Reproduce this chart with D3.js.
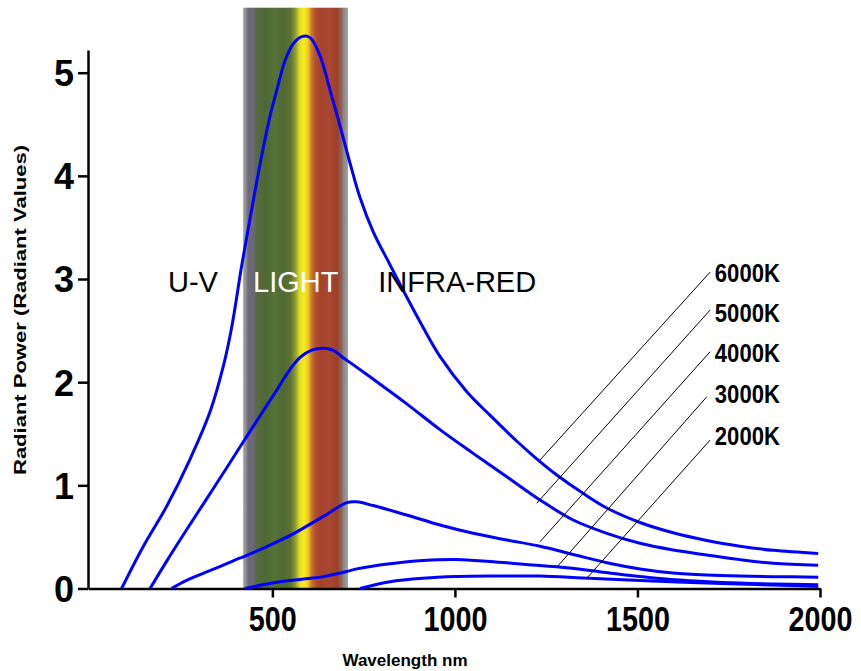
<!DOCTYPE html>
<html>
<head>
<meta charset="utf-8">
<script src="https://cdn.jsdelivr.net/npm/d3@7"></script>
<style>
  html, body { margin: 0; padding: 0; background: #fff; }
  svg { display: block; }
</style>
</head>
<body>
<svg id="chart" width="861" height="671"></svg>
<script>
// ---------- DATA ----------
const xTickValues = [500, 1000, 1500, 2000];
const yTickValues = [0, 1, 2, 3, 4, 5];
const xTitle = "Wavelength nm";
const yTitle = "Radiant Power (Radiant Values)";

const seriesLabels = ["6000K", "5000K", "4000K", "3000K", "2000K"];

// [wavelength nm, radiant value]
const curve6000 = [[87,0],[146,0.405],[211,0.80],[274,1.25],[329,1.71],[366,2.16],[389,2.54],[416,3.13],[434,3.49],[457,3.94],[475,4.27],[493,4.57],[512,4.83],[535,5.12],[557,5.28],[581,5.35],[603,5.34],[630,5.17],[658,4.83],[685,4.49],[713,4.12],[740,3.79],[776,3.46],[822,3.14],[868,2.825],[913,2.53],[959,2.25],[1032,1.91],[1096,1.68],[1169,1.43],[1233,1.23],[1279,1.10],[1352,0.92],[1416,0.78],[1507,0.64],[1598,0.54],[1690,0.465],[1781,0.41],[1872,0.37],[1995,0.34]];
const curve5000 = [[165,0],[211,0.268],[265,0.569],[320,0.869],[375,1.17],[420,1.42],[466,1.672],[512,1.923],[548,2.122],[576,2.241],[608,2.31],[639,2.33],[666,2.31],[693,2.24],[721,2.17],[776,2.03],[868,1.79],[959,1.54],[1050,1.31],[1142,1.083],[1233,0.858],[1324,0.664],[1416,0.535],[1507,0.438],[1598,0.373],[1690,0.325],[1781,0.28],[1872,0.245],[1995,0.225]];
const curve4000 = [[224,0],[265,0.078],[329,0.173],[393,0.268],[430,0.322],[485,0.407],[548,0.512],[640,0.699],[704,0.833],[731,0.84],[776,0.804],[868,0.712],[959,0.615],[1050,0.535],[1142,0.47],[1233,0.41],[1324,0.33],[1416,0.25],[1507,0.19],[1598,0.15],[1690,0.13],[1781,0.12],[1872,0.115],[1995,0.11]];
const curve3000 = [[425,0],[512,0.06],[576,0.088],[640,0.115],[699,0.16],[731,0.19],[822,0.24],[913,0.272],[1005,0.282],[1096,0.262],[1187,0.235],[1279,0.21],[1370,0.175],[1461,0.133],[1552,0.10],[1644,0.076],[1735,0.058],[1872,0.044],[1995,0.036]];
const curve2000 = [[740,0],[822,0.066],[913,0.10],[1005,0.116],[1096,0.121],[1233,0.12],[1352,0.102],[1507,0.078],[1690,0.053],[1872,0.034],[1995,0.02]];
const curves = [curve6000, curve5000, curve4000, curve3000, curve2000];

// leader lines: bottom end (wavelength, value) and top end (wavelength, value)
const leaderBottomWl  = [1233, 1224, 1233, 1282, 1361];
const leaderBottomVal = [1.245, 0.826, 0.453, 0.218, 0.099];
const leaderTopWl     = [1699, 1699, 1699, 1690, 1699];
const leaderTopVal    = [3.067, 2.699, 2.295, 1.859, 1.439];
const labelWl  = 1712;
const labelVal = [2.969, 2.582, 2.195, 1.797, 1.390];

// visible light band (nm)
const bandStart = 420, bandEnd = 707, bandTop = 5.63;

// region annotations
const regionNames = ["U-V", "LIGHT", "INFRA-RED"];
const regionWl = [214, 447, 790];
const regionVal = 2.873;

// ---------- CHART ----------
const svg = d3.select("#chart");
svg.append("rect").attr("width", 861).attr("height", 671).attr("fill", "#fff");

const x = d3.scaleLinear().domain([-5, 2000]).range([88, 820]);
const y = d3.scaleLinear().domain([0, 5.22]).range([588.5, 50]);

// gradient for spectrum band
const defs = svg.append("defs");
const grad = defs.append("linearGradient").attr("id", "spec")
  .attr("x1", "0%").attr("x2", "100%").attr("y1", "0%").attr("y2", "0%");
const stops = [
  [0, "#a4a4a4"], [3, "#8c8c8c"], [4.5, "#6e6a7c"], [10, "#6a6874"], [13, "#58693f"],
  [22, "#4d6934"], [30, "#567238"], [38, "#4f6a32"], [45, "#5b6f30"], [50, "#8f9f32"],
  [54, "#e2dc24"], [58, "#f8ec1c"], [62, "#eccb26"], [65, "#cf7a30"], [69, "#b0502e"],
  [74, "#a6422c"], [82, "#a9472f"], [90, "#9e3f2b"], [94, "#8c6458"], [96, "#8a8a8a"], [100, "#a0a0a0"]
];
stops.forEach(s => grad.append("stop").attr("offset", s[0] + "%").attr("stop-color", s[1]));

svg.append("rect")
  .attr("x", x(bandStart)).attr("y", y(bandTop))
  .attr("width", x(bandEnd) - x(bandStart))
  .attr("height", y(0) - y(bandTop))
  .attr("fill", "url(#spec)");

// axes
const xAxis = svg.append("g").attr("transform", `translate(0,${y(0)})`)
  .call(d3.axisBottom(x).tickValues(xTickValues).tickSize(9).tickSizeOuter(0).tickPadding(2).tickFormat(d3.format("d")));
const yAxis = svg.append("g").attr("transform", `translate(${x(-5)},0)`)
  .call(d3.axisLeft(y).tickValues(yTickValues).tickSize(10).tickSizeOuter(0).tickPadding(4).tickFormat(d3.format("d")));

[xAxis, yAxis].forEach(g => {
  g.select(".domain").attr("stroke", "#000").attr("stroke-width", 2.5);
  g.selectAll(".tick line").attr("stroke", "#000").attr("stroke-width", 2.5);
  g.selectAll(".tick text")
    .attr("fill", "#000")
    .style("font-family", "'Liberation Sans', Arial, sans-serif")
    .style("font-weight", "bold");
});
xAxis.selectAll(".tick text").style("font-size", "30px").attr("dy", "0.88em")
  .attr("transform", "scale(1,1.14)")
  .attr("textLength", d => String(d).length * 16).attr("lengthAdjust", "spacingAndGlyphs");
yAxis.selectAll(".tick text").style("font-size", "36px").attr("dy", "0.36em");

// curves
const line = d3.line().x(d => x(d[0])).y(d => y(d[1])).curve(d3.curveCatmullRom.alpha(0.5));
svg.append("g").selectAll("path").data(curves).join("path")
  .attr("d", line)
  .attr("fill", "none")
  .attr("stroke", "#0000ff")
  .attr("stroke-width", 3)
  .attr("stroke-linejoin", "round");

// region annotations
svg.append("g").selectAll("text").data(regionNames).join("text")
  .attr("x", (d, i) => x(regionWl[i]))
  .attr("y", y(regionVal))
  .attr("fill", (d, i) => i === 1 ? "#fff" : "#000")
  .style("font-family", "'Liberation Sans', Arial, sans-serif")
  .style("font-size", "29px")
  .text(d => d);

// leader lines
svg.append("g").selectAll("line").data(seriesLabels).join("line")
  .attr("x1", (d, i) => x(leaderBottomWl[i]))
  .attr("y1", (d, i) => y(leaderBottomVal[i]))
  .attr("x2", (d, i) => x(leaderTopWl[i]))
  .attr("y2", (d, i) => y(leaderTopVal[i]))
  .attr("stroke", "#000")
  .attr("stroke-width", 1);

// series labels
svg.append("g").selectAll("text").data(seriesLabels).join("text")
  .attr("x", x(labelWl))
  .attr("y", (d, i) => y(labelVal[i]))
  .attr("fill", "#000")
  .style("font-family", "'Liberation Sans', Arial, sans-serif")
  .style("font-weight", "bold")
  .style("font-size", "26px")
  .attr("textLength", 65).attr("lengthAdjust", "spacingAndGlyphs")
  .text(d => d);

// axis titles
svg.append("text")
  .attr("x", 405).attr("y", 666)
  .attr("text-anchor", "middle")
  .style("font-family", "'Liberation Sans', Arial, sans-serif")
  .style("font-weight", "bold")
  .style("font-size", "17px")
  .text(xTitle);

svg.append("text")
  .attr("transform", "translate(26,310) rotate(-90)")
  .attr("text-anchor", "middle")
  .style("font-family", "'Liberation Sans', Arial, sans-serif")
  .style("font-weight", "bold")
  .style("font-size", "17px")
  .attr("textLength", 330).attr("lengthAdjust", "spacingAndGlyphs")
  .text(yTitle);
</script>
</body>
</html>
